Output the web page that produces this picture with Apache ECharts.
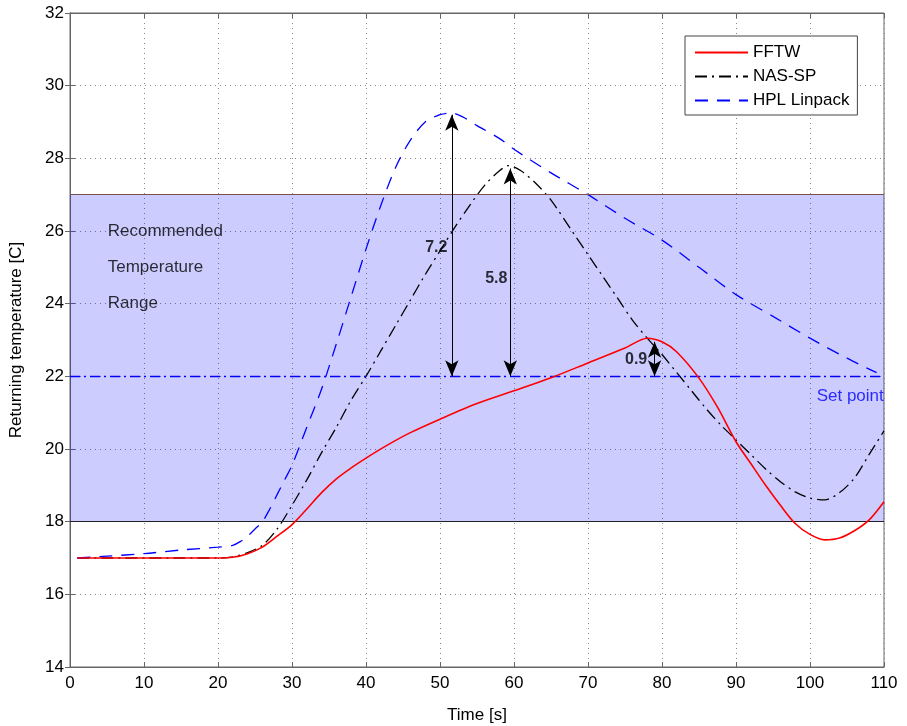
<!DOCTYPE html>
<html>
<head>
<meta charset="utf-8">
<script src="https://cdn.jsdelivr.net/npm/echarts@6/dist/echarts.min.js"></script>
<style>html,body{margin:0;padding:0;background:#fff;}#chart{width:907px;height:726px;}</style>
</head>
<body>
<div id="chart"></div>
<script>
// ---- data ----
const seriesNames = ['FFTW', 'NAS-SP', 'HPL Linpack'];
const fftwTime = [1,5,10,15,20,22,24,26,28,30,32,34,36,38,40,43,46,50,55,60,65,70,75,78,80,82,85,87.5,90,92,94,96,98,100,102,104,106,108,110];
const fftwTemp = [17.0,17.0,17.0,17.0,17.0,17.02,17.12,17.3,17.6,17.92,18.35,18.8,19.18,19.48,19.75,20.12,20.45,20.82,21.25,21.6,21.96,22.37,22.78,23.05,22.95,22.67,21.95,21.15,20.2,19.6,19.0,18.45,17.95,17.65,17.5,17.55,17.75,18.05,18.55];
const nasTime = [1,5,10,15,20,22,24,26,28,30,32,34,36,38,40,42,44,46,48,50,52,54,56,58,59.3,61,63,65,68,70,72,74,76,78,80,82,84,86,88,90,92,94,96,98,100,102,104,106,108,110];
const nasTemp = [17.0,17.0,17.0,17.0,17.0,17.03,17.15,17.35,17.8,18.45,19.15,19.9,20.6,21.35,22.0,22.7,23.4,24.1,24.8,25.45,26.1,26.7,27.25,27.65,27.8,27.65,27.3,26.85,25.95,25.35,24.75,24.15,23.55,23.05,22.6,22.1,21.6,21.1,20.65,20.25,19.85,19.45,19.1,18.82,18.65,18.6,18.8,19.2,19.85,20.5];
const hplTime = [1,5,10,15,20,22,23,24,25,26,27,28,29,30,32,34,36,38,40,42,44,46,48,50,51.5,53,55,58,60,65,70,75,80,85,90,95,100,105,109];
const hplTemp = [17.0,17.05,17.12,17.22,17.3,17.35,17.45,17.6,17.8,18.0,18.35,18.75,19.15,19.55,20.6,21.65,22.9,24.2,25.5,26.7,27.75,28.5,29.0,29.2,29.25,29.15,28.9,28.55,28.25,27.6,27.0,26.35,25.75,25.0,24.25,23.65,23.05,22.5,22.1];

const rangeLow = 18, rangeHigh = 27, setPoint = 22;
const rangeText = ['Recommended', 'Temperature', 'Range'];
const rangeTextPos = [[5.1, 26.0], [5.1, 25.0], [5.1, 24.0]];
const setPointText = 'Set point';
const setPointTextPos = [100.9, 21.45];

const diffLabels = ['7.2', '5.8', '0.9'];
const diffLabelPos = [[48.0, 25.55], [56.1, 24.7], [75.0, 22.45]];
const arrowX = [51.6, 59.5, 79.0];
const arrowTop = [29.2, 27.72, 22.95];

const xMin = 0, xMax = 110, xStep = 10;
const yMin = 14, yMax = 32, yStep = 2;

// ---- chart ----
const chart = echarts.init(document.getElementById('chart'));
const FONT = 'Liberation Sans, Arial, sans-serif';
const pair = (xs, ys) => xs.map((x, i) => [x, ys[i]]);

const textData = rangeText.map((t, i) => [rangeTextPos[i][0], rangeTextPos[i][1], t]);
const diffData = diffLabels.map((t, i) => [diffLabelPos[i][0], diffLabelPos[i][1], t]);

const option = {
  animation: false,
  backgroundColor: '#fff',
  grid: { left: 70, right: 23, top: 13, bottom: 59, outerBoundsMode: 'none', containLabel: false,
    show: true, borderColor: '#666', borderWidth: 1, backgroundColor: 'transparent' },
  legend: {
    data: seriesNames,
    orient: 'vertical',
    left: 685, top: 36,
    padding: [8, 8, 6, 9],
    itemWidth: 53, itemHeight: 17, itemGap: 7,
    backgroundColor: '#fff',
    borderColor: '#444', borderWidth: 1,
    itemStyle: { opacity: 0 },
    textStyle: { fontFamily: FONT, fontSize: 17, color: '#000' }
  },
  xAxis: [{
    type: 'value', min: xMin, max: xMax, interval: xStep,
    name: 'Time [s]', nameLocation: 'middle', nameGap: 40,
    nameTextStyle: { fontFamily: FONT, fontSize: 17, color: '#000' },
    axisLine: { show: true, lineStyle: { color: '#666' } },
    axisTick: { inside: true, length: 5, lineStyle: { color: '#666' } },
    axisLabel: { fontFamily: FONT, fontSize: 17, color: '#000', margin: 8 },
    splitLine: { show: true, lineStyle: { color: '#888', type: [1, 4], width: 1 } }
  }, {
    type: 'value', min: xMin, max: xMax, interval: xStep, position: 'top',
    axisLine: { show: true, lineStyle: { color: '#666' } },
    axisTick: { inside: true, length: 5, lineStyle: { color: '#666' } },
    axisLabel: { show: false }, splitLine: { show: false }
  }],
  yAxis: [{
    type: 'value', min: yMin, max: yMax, interval: yStep,
    name: 'Returning temperature [C]', nameLocation: 'middle', nameGap: 45, nameRotate: 90,
    nameTextStyle: { fontFamily: FONT, fontSize: 17, color: '#000' },
    axisLine: { show: true, lineStyle: { color: '#666' } },
    axisTick: { inside: true, length: 5, lineStyle: { color: '#666' } },
    axisLabel: { fontFamily: FONT, fontSize: 17, color: '#000', margin: 6 },
    splitLine: { show: true, lineStyle: { color: '#888', type: [1, 4], width: 1 } }
  }, {
    type: 'value', min: yMin, max: yMax, interval: yStep, position: 'right',
    axisLine: { show: true, lineStyle: { color: '#666' } },
    axisTick: { inside: true, length: 5, lineStyle: { color: '#666' } },
    axisLabel: { show: false }, splitLine: { show: false }
  }],
  series: [
    {
      name: '__band', type: 'line', data: [], silent: true, z: 1,
      markArea: {
        silent: true,
        itemStyle: { color: 'rgba(0,0,255,0.2)' },
        data: [[{ yAxis: rangeLow }, { yAxis: rangeHigh }]]
      },
      markLine: {
        silent: true, symbol: 'none', label: { show: false },
        data: [
          { yAxis: rangeHigh, lineStyle: { color: '#7a5050', type: 'solid', width: 1.2 } },
          { yAxis: rangeLow, lineStyle: { color: '#222', type: 'solid', width: 1.2 } },
          { yAxis: setPoint, lineStyle: { color: '#0000ff', type: [10, 4, 2, 4], width: 1.3 } }
        ]
      }
    },
    {
      name: 'FFTW', type: 'line', data: pair(fftwTime, fftwTemp), smooth: 0.3,
      symbol: 'none', z: 5,
      lineStyle: { color: '#ff0000', width: 1.6, type: 'solid' }, itemStyle: { color: '#ff0000' }
    },
    {
      name: 'NAS-SP', type: 'line', data: pair(nasTime, nasTemp), smooth: 0.3,
      symbol: 'none', z: 4,
      lineStyle: { color: '#000', width: 1.3, type: [12, 5, 2, 5] }, itemStyle: { color: '#000' }
    },
    {
      name: 'HPL Linpack', type: 'line', data: pair(hplTime, hplTemp), smooth: 0.3,
      symbol: 'none', z: 4,
      lineStyle: { color: '#0000ff', width: 1.3, type: [13, 9] }, itemStyle: { color: '#0000ff' }
    },
    {
      name: '__arrows', type: 'line', data: [], silent: true, z: 6,
      markLine: {
        silent: true, symbol: ['arrow', 'arrow'], symbolSize: [10, 16],
        label: { show: false },
        lineStyle: { color: '#000', type: 'solid', width: 1 },
        data: arrowX.map((x, i) => [{ coord: [x, setPoint] }, { coord: [x, arrowTop[i]] }])
      }
    },
    {
      name: '__rangeText', type: 'scatter', data: textData, symbolSize: 0, silent: true, z: 7,
      label: { show: true, position: 'right', distance: 0, formatter: p => p.value[2],
        fontFamily: FONT, fontSize: 17, color: '#000' }
    },
    {
      name: '__setText', type: 'scatter', data: [[setPointTextPos[0], setPointTextPos[1], setPointText]],
      symbolSize: 0, silent: true, z: 7,
      label: { show: true, position: 'right', distance: 0, formatter: p => p.value[2],
        fontFamily: FONT, fontSize: 17, color: '#0000ff' }
    },
    {
      name: '__diffText', type: 'scatter', data: diffData, symbolSize: 0, silent: true, z: 7,
      label: { show: true, position: 'right', distance: 0, formatter: p => p.value[2],
        fontFamily: FONT, fontSize: 16, fontWeight: 'bold', color: '#000' }
    }
  ]
};
chart.setOption(option);
</script>
</body>
</html>
